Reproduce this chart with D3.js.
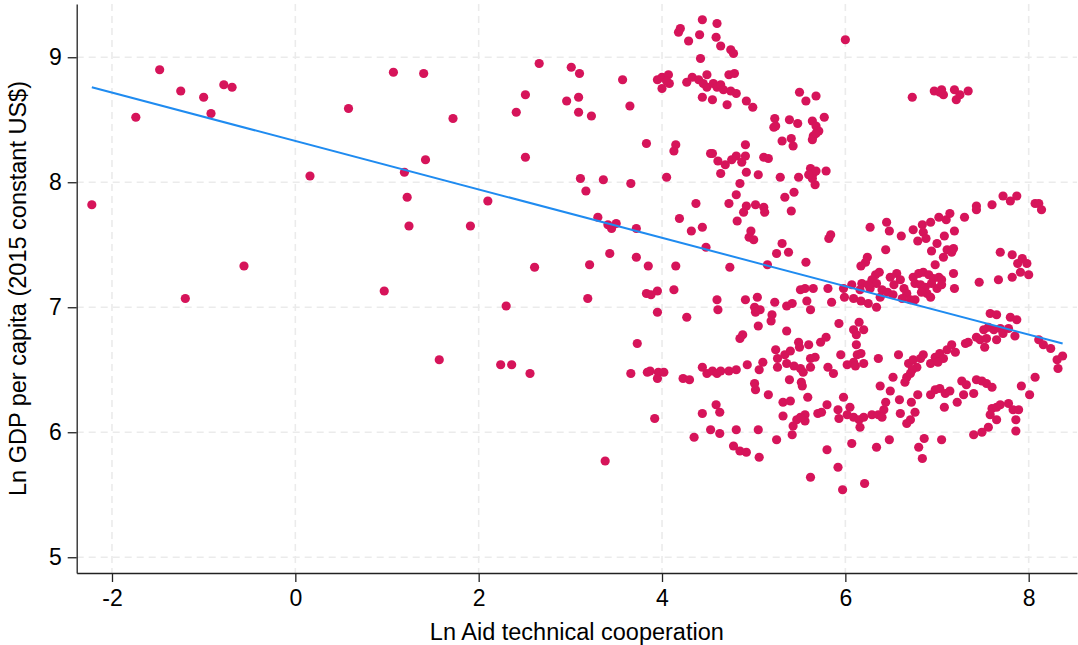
<!DOCTYPE html>
<html>
<head>
<meta charset="utf-8">
<script src="https://cdn.jsdelivr.net/npm/d3@7"></script>
<style>
  body { margin: 0; background: #fff; }
  text { font-family: "Liberation Sans", Arial, Helvetica, sans-serif; fill: #000; }
</style>
</head>
<body>
<div id="chart"></div>
<script>
// Ln Aid technical cooperation (x) vs Ln GDP per capita (y)
const points = [
  [-2.22,7.82],[-1.74,8.52],[-1.48,8.90],[-1.25,8.73],[-1.00,8.68],[-0.92,8.55],[-0.78,8.78],[-0.69,8.76],[-1.20,7.07],[-0.56,7.33],[0.16,8.05],[0.58,8.59],
  [1.07,8.88],[1.40,8.87],[1.72,8.51],[1.42,8.18],[1.19,8.08],[1.22,7.88],[1.24,7.65],[1.91,7.65],[2.10,7.85],[0.97,7.13],[2.30,7.01],[2.66,8.95],[2.51,8.70],[2.41,8.56],[2.51,8.20],
  [3.01,8.92],[3.10,8.87],[3.09,8.68],[2.96,8.65],[3.09,8.56],[3.23,8.53],[3.57,8.82],[3.65,8.61],[3.83,8.31],[4.15,8.30],[4.13,8.25],[3.11,8.03],[3.17,7.93],[3.36,8.02],[3.66,7.99],[4.05,8.04],
  [3.30,7.72],[3.41,7.66],[3.45,7.63],[3.50,7.67],[3.72,7.63],[4.19,7.71],[4.37,7.83],[4.32,7.61],[4.44,7.64],[4.48,7.48],[3.43,7.43],[3.21,7.34],[3.72,7.40],[3.85,7.33],[4.15,7.33],[2.61,7.32],
  [3.19,7.07],[3.83,7.11],[3.88,7.10],[3.95,7.13],[4.13,7.14],[3.95,6.96],[4.27,6.92],[4.18,9.20],[4.20,9.23],[4.44,9.30],[4.29,9.13],[4.41,9.18],[4.42,8.99],
  [3.95,8.82],[4.00,8.84],[4.07,8.86],[4.08,8.79],[4.00,8.75],[4.05,8.81],[4.27,8.80],[4.33,8.84],[4.40,8.82],[4.45,8.79],[4.49,8.76],[4.49,8.86],[4.44,8.68],[4.53,8.23],
  [1.57,6.58],[2.24,6.54],[2.36,6.54],[2.56,6.47],[3.73,6.71],[3.66,6.47],[3.84,6.48],[3.87,6.49],[3.96,6.48],[4.02,6.48],[3.95,6.43],[4.23,6.43],[4.30,6.42],[4.44,6.52],[4.49,6.47],
  [3.92,6.11],[4.44,6.15],[4.35,5.96],[4.53,6.02],[3.38,5.77],
  [4.60,9.27],[4.59,9.16],[4.64,9.09],[4.75,9.06],[4.78,9.03],[4.56,8.79],[4.60,8.76],[4.64,8.78],[4.67,8.74],[4.73,8.86],[4.79,8.87],[4.75,8.73],[4.81,8.71],[4.55,8.66],[4.71,8.62],[4.92,8.65],[4.99,8.60],
  [5.50,8.72],[5.57,8.65],[5.68,8.69],[5.23,8.51],[5.22,8.44],[5.24,8.45],[5.39,8.50],[5.48,8.47],[5.64,8.49],[5.68,8.45],[5.71,8.41],[5.65,8.37],[5.64,8.34],[5.68,8.39],[5.77,8.52],[5.31,8.33],[5.41,8.35],[5.43,8.29],
  [4.91,8.30],[4.55,8.23],[4.61,8.17],[4.69,8.14],[4.64,8.07],[4.76,8.18],[4.81,8.21],[4.87,8.16],[4.91,8.21],[4.92,8.08],[5.05,8.06],[5.11,8.20],[5.16,8.19],[5.29,8.04],[5.49,8.04],
  [5.62,8.11],[5.65,8.07],[5.68,8.09],[5.64,8.03],[5.67,7.98],[5.60,8.06],[5.79,8.09],[4.85,7.99],[4.81,7.90],[4.73,7.83],[4.89,7.76],[4.92,7.81],[5.02,7.82],[5.11,7.80],[5.12,7.76],
  [5.34,7.88],[5.44,7.92],[5.41,7.77],[4.82,7.69],[4.97,7.61],[4.95,7.56],[5.00,7.54],[5.31,7.51],[5.25,7.43],[5.38,7.44],[5.82,7.55],
  [4.74,7.32],[5.15,7.34],[5.57,7.36],[4.60,7.06],[4.61,6.98],[4.91,7.06],[5.04,7.08],[5.01,7.00],[5.07,6.98],[5.02,6.96],[5.23,7.04],[5.36,7.01],[5.42,7.03],[5.51,7.14],[5.56,7.15],[5.65,7.15],
  [5.58,7.05],[5.62,6.98],[5.81,7.15],[5.20,6.94],[5.19,6.89],[5.05,6.85],[5.36,6.81],[4.85,6.75],[4.88,6.78],[5.24,6.66],[5.26,6.59],[5.34,6.62],[5.40,6.65],[5.49,6.72],[5.50,6.68],[5.60,6.70],
  [5.73,6.72],[5.79,6.76],[5.26,6.52],[5.36,6.55],[5.44,6.53],[5.51,6.51],[5.54,6.48],[5.62,6.52],[5.67,6.60],[5.62,6.59],[5.81,6.52],[5.10,6.56],[5.06,6.50],[4.93,6.54],
  [4.55,6.49],[4.60,6.47],[4.64,6.49],[4.73,6.49],[4.81,6.50],[5.01,6.39],[5.02,6.34],[5.16,6.30],[5.39,6.42],[5.52,6.40],[5.53,6.37],[5.59,6.28],[5.32,6.24],[5.40,6.25],[5.80,6.22],
  [4.59,6.22],[4.63,6.16],[5.32,6.13],[5.47,6.10],[5.56,6.14],[5.56,6.09],[5.51,6.12],[5.70,6.15],[5.74,6.16],[5.43,6.05],[5.42,5.98],[4.63,5.99],[4.81,6.02],[5.05,6.02],[5.25,5.94],
  [4.78,5.89],[4.85,5.85],[4.92,5.84],[5.06,5.80],[5.80,5.86],[5.62,5.64],
  [6.00,9.14],[6.73,8.68],[6.97,8.73],[7.05,8.74],[7.07,8.70],[7.19,8.74],[7.21,8.66],[7.25,8.70],[7.34,8.73],[7.03,8.72],
  [5.84,7.58],[6.27,7.64],[6.45,7.68],[6.48,7.61],[6.61,7.57],[6.74,7.62],[6.84,7.66],[6.85,7.60],[6.88,7.55],[6.79,7.53],[6.93,7.68],[7.02,7.72],[7.10,7.70],[7.14,7.75],[7.08,7.57],[7.19,7.61],
  [7.00,7.51],[7.30,7.72],[7.43,7.81],[7.43,7.78],[7.60,7.82],[7.72,7.89],[7.80,7.85],[7.87,7.89],[8.07,7.83],[8.11,7.83],[8.14,7.78],
  [6.44,7.46],[6.94,7.45],[7.11,7.46],[7.16,7.44],[7.07,7.40],[7.18,7.47],[6.98,7.34],[7.69,7.44],[7.82,7.42],[7.88,7.35],[7.93,7.39],[7.98,7.35],[7.91,7.28],[8.00,7.26],[7.82,7.24],
  [6.24,7.40],[6.22,7.36],[6.17,7.33],[6.33,7.26],[6.37,7.28],[6.29,7.22],[6.34,7.19],[6.27,7.15],[6.40,7.14],[6.49,7.24],[6.56,7.27],[6.60,7.22],[6.53,7.18],[6.46,7.12],[6.38,7.08],
  [6.18,7.19],[6.16,7.14],[6.25,7.18],[6.07,7.18],[5.98,7.15],[5.99,7.08],[6.09,7.07],[6.17,7.05],[6.25,7.03],[6.34,7.00],[5.85,7.04],
  [6.64,7.15],[6.67,7.11],[6.62,7.07],[6.71,7.06],[6.76,7.06],[6.52,7.10],
  [6.74,7.24],[6.80,7.27],[6.85,7.28],[6.91,7.26],[6.96,7.23],[7.02,7.24],[7.05,7.22],[6.76,7.19],[6.82,7.18],[6.87,7.16],[6.94,7.19],[7.00,7.15],[7.05,7.18],[6.89,7.11],[6.93,7.08],[6.83,7.12],
  [7.18,7.27],[7.19,7.15],[7.46,7.20],[7.67,7.22],
  [7.58,6.95],[7.65,6.94],[7.80,6.92],[7.87,6.90],[7.56,6.84],[7.62,6.82],[7.69,6.83],[7.51,6.82],[7.43,6.76],[7.34,6.72],[7.31,6.71],[7.47,6.74],[7.54,6.75],[7.52,6.68],[7.65,6.74],[7.72,6.79],
  [7.78,6.83],[7.85,6.77],[8.11,6.74],[8.16,6.70],[8.24,6.67],[8.31,6.58],[8.37,6.61],[8.32,6.51],[8.07,6.44],[7.92,6.37],[8.01,6.30],
  [5.93,6.87],[6.15,6.88],[6.09,6.82],[6.12,6.78],[6.20,6.82],[6.12,6.70],
  [5.95,6.62],[6.13,6.62],[6.17,6.63],[6.09,6.56],[6.02,6.54],[6.20,6.55],[6.11,6.53],[6.36,6.59],[6.58,6.62],[5.87,6.47],
  [6.69,6.55],[6.74,6.58],[6.78,6.52],[6.73,6.50],[6.82,6.59],[6.85,6.62],[6.67,6.44],[6.65,6.40],[6.71,6.47],[6.93,6.55],
  [6.98,6.60],[7.03,6.63],[7.07,6.59],[7.01,6.56],[7.11,6.66],[7.16,6.70],[7.20,6.64],
  [6.52,6.44],[6.38,6.37],[6.49,6.33],[6.59,6.26],[6.60,6.15],[5.98,6.28],
  [5.92,6.18],[5.93,6.11],[6.05,6.20],[6.02,6.14],[6.09,6.12],[6.15,6.10],[6.16,6.04],[6.20,6.12],[6.29,6.14],[6.36,6.14],[6.42,6.18],[6.44,6.24],[6.40,6.12],
  [6.72,6.24],[6.79,6.30],[6.76,6.16],[6.71,6.10],[6.67,6.07],
  [6.93,6.30],[6.98,6.34],[7.03,6.35],[7.09,6.31],[7.14,6.33],[7.22,6.24],[7.29,6.30],[7.27,6.41],[7.32,6.38],[7.40,6.31],[7.43,6.42],[7.49,6.41],[7.54,6.39],[7.60,6.36],[7.08,6.20],
  [7.60,6.19],[7.58,6.14],[7.65,6.20],[7.69,6.22],[7.78,6.23],[7.83,6.18],[7.89,6.18],[7.65,6.10],[7.56,6.04],[7.49,6.00],[7.40,5.98],[7.86,6.10],[7.86,6.01],
  [6.07,5.91],[6.34,5.88],[6.48,5.94],[6.80,5.88],[6.86,5.95],[6.84,5.79],[7.05,5.94],[5.92,5.72],[6.21,5.59],[5.97,5.54]
];

// Fitted values (linear fit), intercept and slope
const fitIntercept = 8.33;
const fitSlope = -0.1936;

const xTicks = [-2, 0, 2, 4, 6, 8];
const yTicks = [5, 6, 7, 8, 9];

const width = 1078;
const height = 645;
const plot = { left: 76.7, right: 1077, top: 4, bottom: 573 };

const x = d3.scaleLinear()
    .domain([-2.385, 8.527])
    .range([plot.left, plot.right]);

const y = d3.scaleLinear()
    .domain([4.874, 9.426])
    .range([plot.bottom, plot.top]);

const svg = d3.select("#chart").append("svg")
    .attr("width", width)
    .attr("height", height);

// grid lines
svg.append("g")
    .selectAll("line")
    .data(xTicks)
    .enter().append("line")
    .attr("x1", d => x(d)).attr("x2", d => x(d))
    .attr("y1", plot.top).attr("y2", plot.bottom)
    .attr("stroke", "#ebebeb")
    .attr("stroke-width", 1.6)
    .attr("stroke-dasharray", "7,5");

svg.append("g")
    .selectAll("line")
    .data(yTicks)
    .enter().append("line")
    .attr("x1", plot.left).attr("x2", plot.right)
    .attr("y1", d => y(d)).attr("y2", d => y(d))
    .attr("stroke", "#ebebeb")
    .attr("stroke-width", 1.6)
    .attr("stroke-dasharray", "7,5");

// points
svg.append("g")
    .selectAll("circle")
    .data(points)
    .enter().append("circle")
    .attr("cx", d => x(d[0]))
    .attr("cy", d => y(d[1]))
    .attr("r", 4.6)
    .attr("fill", "#d6145a");

// fitted line over the range of the data
const xExt = d3.extent(points, d => d[0]);
const fitData = xExt.map(v => [v, fitIntercept + fitSlope * v]);

svg.append("path")
    .datum(fitData)
    .attr("fill", "none")
    .attr("stroke", "#1f8bf0")
    .attr("stroke-width", 2)
    .attr("d", d3.line().x(d => x(d[0])).y(d => y(d[1])));

// axes (plain hyphen minus, integer labels)
const fmt = d => String(d);

const xAxis = svg.append("g")
    .attr("transform", `translate(0,${plot.bottom})`)
    .call(d3.axisBottom(x).tickValues(xTicks).tickFormat(fmt).tickSize(9).tickPadding(8).tickSizeOuter(0));

const yAxis = svg.append("g")
    .attr("transform", `translate(${plot.left},0)`)
    .call(d3.axisLeft(y).tickValues(yTicks).tickFormat(fmt).tickSize(9).tickPadding(6).tickSizeOuter(0));

[xAxis, yAxis].forEach(a => {
    a.select(".domain").attr("stroke", "#222").attr("stroke-width", 1.3);
    a.selectAll(".tick line").attr("stroke", "#222").attr("stroke-width", 1.3);
    a.selectAll(".tick text")
        .attr("fill", "#000")
        .style("font-size", "23px")
        .style("font-family", "'Liberation Sans', Arial, Helvetica, sans-serif");
});

// axis titles
svg.append("text")
    .attr("x", (plot.left + plot.right) / 2)
    .attr("y", 640)
    .attr("text-anchor", "middle")
    .style("font-size", "23.5px")
    .text("Ln Aid technical cooperation");

svg.append("text")
    .attr("transform", "rotate(-90)")
    .attr("x", -(plot.top + plot.bottom) / 2)
    .attr("y", 26)
    .attr("text-anchor", "middle")
    .style("font-size", "23.5px")
    .text("Ln GDP per capita (2015 constant US$)");
</script>
</body>
</html>
